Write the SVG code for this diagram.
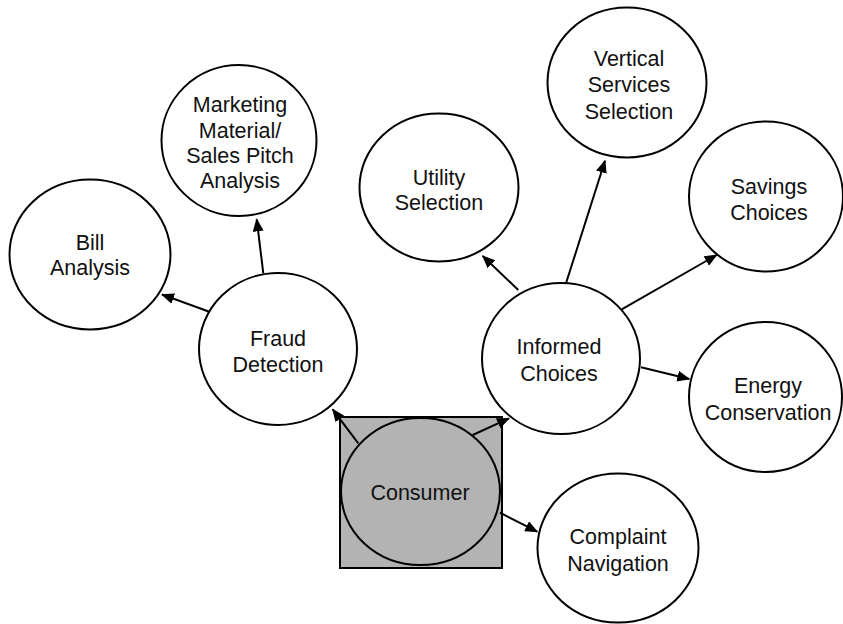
<svg xmlns="http://www.w3.org/2000/svg" width="843" height="624" viewBox="0 0 843 624">
  <style>
    .node { fill: #ffffff; stroke: #000000; stroke-width: 2; }
    .grey { fill: #b3b3b3; stroke: #000000; stroke-width: 2; }
    .label { font-family: "Liberation Sans", Arial, sans-serif; font-size: 21.5px; fill: #111111; text-anchor: middle; }
    .edge { stroke: #000000; stroke-width: 2; fill: none; marker-end: url(#arrow); }
  </style>
  <defs>
    <marker id="arrow" viewBox="0 0 13 11" refX="12" refY="5.5" markerWidth="13" markerHeight="11" markerUnits="userSpaceOnUse" orient="auto">
      <path d="M0,0 L13,5.5 L0,11 Z" fill="#000000"/>
    </marker>
  </defs>
  <rect width="843" height="624" fill="#ffffff"/>

  <g id="consumer">
    <rect class="grey" x="340" y="417" width="162" height="151"/>
    <ellipse class="grey" cx="420.5" cy="491.5" rx="79.5" ry="73.5"/>
    <text class="label" x="420" y="499.5">Consumer</text>
  </g>

  <g id="fraud-detection">
    <ellipse class="node" cx="278" cy="349" rx="79" ry="76"/>
    <text class="label" x="278" y="345.5">Fraud</text>
    <text class="label" x="278" y="371.5">Detection</text>
  </g>

  <g id="bill-analysis">
    <ellipse class="node" cx="90" cy="254.5" rx="80.5" ry="75"/>
    <text class="label" x="90" y="250">Bill</text>
    <text class="label" x="90" y="275">Analysis</text>
  </g>

  <g id="marketing">
    <ellipse class="node" cx="239" cy="140.5" rx="77.5" ry="75.5"/>
    <text class="label" x="240" y="112">Marketing</text>
    <text class="label" x="240" y="137.5">Material/</text>
    <text class="label" x="240" y="162.5">Sales Pitch</text>
    <text class="label" x="240" y="188">Analysis</text>
  </g>

  <g id="informed-choices">
    <ellipse class="node" cx="561" cy="358.5" rx="79" ry="75.5"/>
    <text class="label" x="559" y="353.5">Informed</text>
    <text class="label" x="559" y="380.5">Choices</text>
  </g>

  <g id="utility-selection">
    <ellipse class="node" cx="439" cy="187.5" rx="79.5" ry="74"/>
    <text class="label" x="439" y="184.5">Utility</text>
    <text class="label" x="439" y="210">Selection</text>
  </g>

  <g id="vertical-services">
    <ellipse class="node" cx="627" cy="82.5" rx="79.5" ry="75"/>
    <text class="label" x="629" y="66">Vertical</text>
    <text class="label" x="629" y="92">Services</text>
    <text class="label" x="629" y="119">Selection</text>
  </g>

  <g id="savings-choices">
    <ellipse class="node" cx="766" cy="196.5" rx="77" ry="75"/>
    <text class="label" x="769" y="194">Savings</text>
    <text class="label" x="769" y="220">Choices</text>
  </g>

  <g id="energy-conservation">
    <ellipse class="node" cx="765.5" cy="397" rx="76.5" ry="75"/>
    <text class="label" x="768" y="393">Energy</text>
    <text class="label" x="768" y="420">Conservation</text>
  </g>

  <g id="complaint-navigation">
    <ellipse class="node" cx="618" cy="548" rx="80.5" ry="74.5"/>
    <text class="label" x="618" y="543.5">Complaint</text>
    <text class="label" x="618" y="570.5">Navigation</text>
  </g>

  <g id="connectors">
    <line class="edge" x1="358.3" y1="443.3" x2="332.7" y2="409.3"/>
    <line class="edge" x1="472.7" y1="435" x2="509" y2="418.3"/>
    <line class="edge" x1="500" y1="512.7" x2="537.3" y2="531.7"/>
    <line class="edge" x1="209.3" y1="311.7" x2="162" y2="294.5"/>
    <line class="edge" x1="263.3" y1="273.3" x2="256.7" y2="219.3"/>
    <line class="edge" x1="518.3" y1="290" x2="482.7" y2="256"/>
    <line class="edge" x1="566" y1="283.3" x2="605" y2="160.7"/>
    <line class="edge" x1="621.7" y1="309.3" x2="716.7" y2="255"/>
    <line class="edge" x1="641" y1="367.3" x2="689.3" y2="379"/>
  </g>
</svg>
